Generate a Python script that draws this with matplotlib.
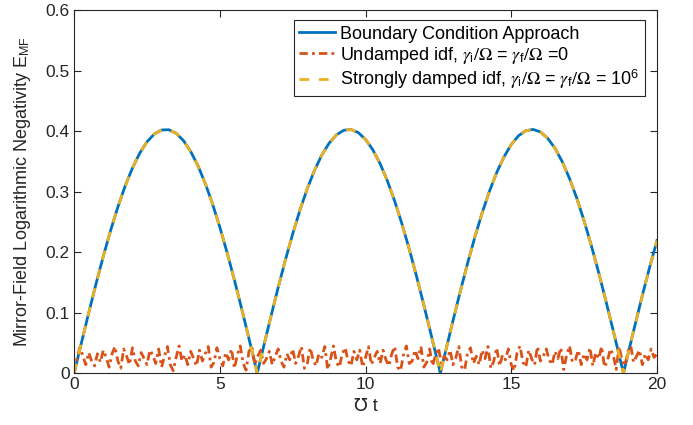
import numpy as np
import matplotlib
matplotlib.use('Agg')
import matplotlib.pyplot as plt

plt.rcParams['font.family'] = ['Liberation Sans', 'DejaVu Sans']
plt.rcParams['mathtext.fontset'] = 'stix'

# boundary condition approach / strongly damped idf (same curve), sampled every 0.25
bc_step = np.arange(0, 20.001, 0.25)
bc_vals = [0.0, 0.0502, 0.0997, 0.1476, 0.1932, 0.2358, 0.2747, 0.3093, 0.3391,
           0.3636, 0.3824, 0.3953, 0.4020, 0.4024, 0.3965, 0.3845, 0.3664, 0.3427,
           0.3136, 0.2796, 0.2412, 0.1990, 0.1538, 0.1062, 0.0569, 0.0067,
           0.0436, 0.0932, 0.1414, 0.1873, 0.2303, 0.2698, 0.3050, 0.3354, 0.3607,
           0.3802, 0.3939, 0.4015, 0.4027, 0.3977, 0.3864, 0.3692, 0.3462, 0.3177,
           0.2843, 0.2465, 0.2049, 0.1600, 0.1126, 0.0635, 0.0134,
           0.0369, 0.0867, 0.1351, 0.1814, 0.2248, 0.2648, 0.3005, 0.3316, 0.3575,
           0.3780, 0.3925, 0.4008, 0.4029, 0.3987, 0.3883, 0.3718, 0.3495, 0.3218,
           0.2890, 0.2517, 0.2105, 0.1661, 0.1190, 0.0701, 0.0201,
           0.0303, 0.0801, 0.1288, 0.1754, 0.2192]
# the three zeros (cusps)
cusp_t = [6.283, 12.566, 18.850]
cusp_v = [0.0, 0.0, 0.0]

# undamped idf, sampled every 0.1
und_t = np.arange(0, 20.001, 0.1)
und_vals = [0.000,
    0.025, 0.043, 0.028, 0.014, 0.034, 0.020, 0.012, 0.032, 0.018, 0.038,
    0.026, 0.010, 0.032, 0.044, 0.020, 0.008, 0.040, 0.028, 0.014, 0.042,
    0.020, 0.012, 0.034, 0.024, 0.014, 0.038, 0.030, 0.016, 0.040, 0.010,
    0.028, 0.044, 0.014, 0.004, 0.026, 0.045, 0.020, 0.030, 0.014, 0.036,
    0.024, 0.012, 0.038, 0.020, 0.032, 0.044, 0.010, 0.018, 0.042, 0.024,
    0.012, 0.034, 0.022, 0.040, 0.008, 0.030, 0.045, 0.016, 0.005, 0.036,
    0.044, 0.014, 0.028, 0.038, 0.016, 0.024, 0.036, 0.014, 0.028, 0.040,
    0.020, 0.010, 0.032, 0.022, 0.040, 0.016, 0.028, 0.044, 0.008, 0.016,
    0.042, 0.022, 0.012, 0.032, 0.026, 0.044, 0.006, 0.024, 0.045, 0.018,
    0.010, 0.032, 0.042, 0.020, 0.012, 0.036, 0.022, 0.038, 0.010, 0.026,
    0.044, 0.014, 0.026, 0.036, 0.016, 0.038, 0.022, 0.012, 0.032, 0.044,
    0.010, 0.004, 0.030, 0.045, 0.016, 0.020, 0.038, 0.024, 0.044, 0.010,
    0.018, 0.040, 0.012, 0.030, 0.042, 0.016, 0.028, 0.022, 0.038, 0.014,
    0.026, 0.044, 0.010, 0.005, 0.034, 0.042, 0.016, 0.028, 0.014, 0.038,
    0.024, 0.044, 0.008, 0.020, 0.042, 0.012, 0.030, 0.022, 0.040, 0.014,
    0.004, 0.034, 0.045, 0.018, 0.010, 0.038, 0.024, 0.014, 0.044, 0.020,
    0.028, 0.040, 0.022, 0.014, 0.036, 0.024, 0.042, 0.006, 0.030, 0.045,
    0.018, 0.022, 0.038, 0.014, 0.032, 0.022, 0.042, 0.012, 0.034, 0.024,
    0.044, 0.010, 0.020, 0.040, 0.030, 0.006, 0.044, 0.022, 0.012, 0.036,
    0.045, 0.018, 0.028, 0.038, 0.014, 0.032, 0.022, 0.040, 0.026, 0.032]

x_ticks = [0, 5, 10, 15, 20]
y_ticks = [0, 0.1, 0.2, 0.3, 0.4, 0.5, 0.6]
y_ticklabels = ['0', '0.1', '0.2', '0.3', '0.4', '0.5', '0.6']

labels = ['Boundary Condition Approach',
          r'Undamped idf, $\gamma_{\mathregular{i}}/\Omega$ = $\gamma_{\mathregular{f}}/\Omega$ =0',
          r'Strongly damped idf, $\gamma_{\mathregular{i}}/\Omega$ = $\gamma_{\mathregular{f}}/\Omega$ = 10$^{\mathregular{6}}$']

# merge cusps into the curve
bc_t = np.concatenate([bc_step, cusp_t])
bc_v = np.concatenate([bc_vals, cusp_v])
order = np.argsort(bc_t)
bc_t = bc_t[order]
bc_v = bc_v[order]

fig = plt.figure(figsize=(6.93, 4.25), dpi=100)
ax = fig.add_axes([0.107, 0.122, 0.841, 0.854])

ax.plot(bc_t, bc_v, color='#0072BD', lw=2.0, label=labels[0])
ax.plot(und_t, und_vals, color='#D95319', lw=2.0, ls=(0, (3, 1.5, 1, 1.5)), label=labels[1])
ax.plot(bc_t, bc_v, color='#EDB120', lw=2.0, ls=(0, (3.5, 3.5)), label=labels[2])

ax.set_xlim(0, 20)
ax.set_ylim(0, 0.6)
ax.set_xticks(x_ticks)
ax.set_yticks(y_ticks)
ax.set_yticklabels(y_ticklabels)
ax.tick_params(direction='in', top=True, right=True, length=5, width=0.8,
               labelsize=12.5, colors='#262626', pad=3)
for s in ax.spines.values():
    s.set_color('#262626')
    s.set_linewidth(0.8)

ax.set_xlabel('\u2127 t', fontsize=13, color='#262626', labelpad=4)
ax.set_ylabel(r'Mirror-Field Logarithmic Negativity E$_{\mathregular{MF}}$', fontsize=13,
              color='#262626', labelpad=9)

leg = ax.legend(loc='upper right', bbox_to_anchor=(0.979, 0.972), borderaxespad=0,
                fontsize=13, handlelength=2.0, handletextpad=0.25, labelspacing=0.1,
                borderpad=0.3, fancybox=False, framealpha=1)
leg.get_frame().set_edgecolor('#262626')
leg.get_frame().set_linewidth(0.8)

fig.savefig('out.png', dpi=100)
